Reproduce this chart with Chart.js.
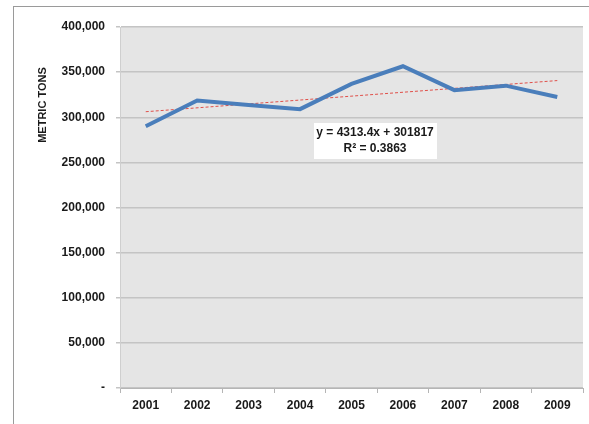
<!DOCTYPE html>
<html>
<head>
<meta charset="utf-8">
<script src="https://cdn.jsdelivr.net/npm/chart.js@4/dist/chart.umd.min.js"></script>
<style>
  html, body { margin: 0; padding: 0; background: #fff; }
  #wrap { position: relative; width: 589px; height: 424px; }
  #frame {
    position: absolute; left: 13px; top: 6px; width: 600px; height: 500px;
    border-left: 1px solid #9a9a9a; border-top: 1px solid #9a9a9a;
  }
  canvas { position: absolute; left: 0; top: 0; }
</style>
</head>
<body>
<div id="wrap">
  <div id="frame"></div>
  <canvas id="chart" width="589" height="424"></canvas>
</div>
<script>
// Data
const years = ["2001", "2002", "2003", "2004", "2005", "2006", "2007", "2008", "2009"];
const tons = [290000, 318500, 313500, 309000, 337000, 356500, 330000, 335000, 322500];
const trend = [306130, null, null, null, null, null, null, null, 340638];
const yTicks = [0, 50000, 100000, 150000, 200000, 250000, 300000, 350000, 400000];
const equationLines = ["y = 4313.4x + 301817", "R\u00B2 = 0.3863"];
const yTitle = "METRIC TONS";

const FONT = "'Liberation Sans', Arial, sans-serif";

const plotBackground = {
  id: "plotBackground",
  beforeDraw(chart) {
    const { ctx, chartArea: a } = chart;
    ctx.save();
    ctx.fillStyle = "#e5e5e5";
    ctx.fillRect(a.left, a.top, a.right - a.left, a.bottom - a.top);
    ctx.restore();
  },
};

const extras = {
  id: "extras",
  afterDraw(chart) {
    const { ctx, chartArea: a } = chart;
    ctx.save();
    // rotated axis title
    ctx.font = "bold 11px " + FONT;
    ctx.fillStyle = "#1a1a1a";
    ctx.textAlign = "center";
    ctx.textBaseline = "middle";
    ctx.translate(43, 105);
    ctx.rotate(-Math.PI / 2);
    ctx.fillText(yTitle, 0, 0);
    ctx.restore();

    // trendline equation label
    ctx.save();
    const cx = a.left + 255;
    const top = a.top + 96;
    ctx.fillStyle = "#ffffff";
    ctx.fillRect(cx - 61, top, 123, 36);
    ctx.font = "bold 12px " + FONT;
    ctx.fillStyle = "#1a1a1a";
    ctx.textAlign = "center";
    ctx.textBaseline = "middle";
    ctx.fillText(equationLines[0], cx, top + 10);
    ctx.fillText(equationLines[1], cx, top + 26);
    ctx.restore();
  },
};

new Chart(document.getElementById("chart"), {
  type: "line",
  data: {
    labels: years,
    datasets: [
      {
        label: "Trend",
        data: trend,
        spanGaps: true,
        borderColor: "#e0504a",
        borderWidth: 1,
        borderDash: [3, 2],
        pointRadius: 0,
        fill: false,
        order: 2,
      },
      {
        label: "Metric tons",
        data: tons,
        borderColor: "#4a7ebb",
        borderWidth: 4,
        pointRadius: 0,
        tension: 0,
        fill: false,
        order: 1,
      },
    ],
  },
  options: {
    responsive: false,
    animation: false,
    layout: { padding: { left: 0, top: 27, right: 6, bottom: 0 } },
    plugins: {
      legend: { display: false },
      tooltip: { enabled: false },
    },
    scales: {
      x: {
        offset: true,
        grid: {
          offset: true,
          drawOnChartArea: false,
          color: "#b5b5b5",
          tickLength: 5,
        },
        border: { color: "#b5b5b5" },
        ticks: {
          padding: 5,
          color: "#1a1a1a",
          font: { family: FONT, size: 12, weight: "bold" },
        },
        afterFit: (scale) => { scale.height = 36; },
      },
      y: {
        min: 0,
        max: 400000,
        afterBuildTicks: (scale) => {
          scale.ticks = yTicks.map((v) => ({ value: v }));
        },
        grid: { color: "#c4c4c4", lineWidth: 1.5, tickLength: 4 },
        border: { color: "#cfcfcf" },
        ticks: {
          padding: 11,
          color: "#1a1a1a",
          font: { family: FONT, size: 12, weight: "bold" },
          callback: (v) => (v === 0 ? "-" : v.toLocaleString("en-US")),
        },
        afterFit: (scale) => { scale.width = 120; },
      },
    },
  },
  plugins: [plotBackground, extras],
});
</script>
</body>
</html>
